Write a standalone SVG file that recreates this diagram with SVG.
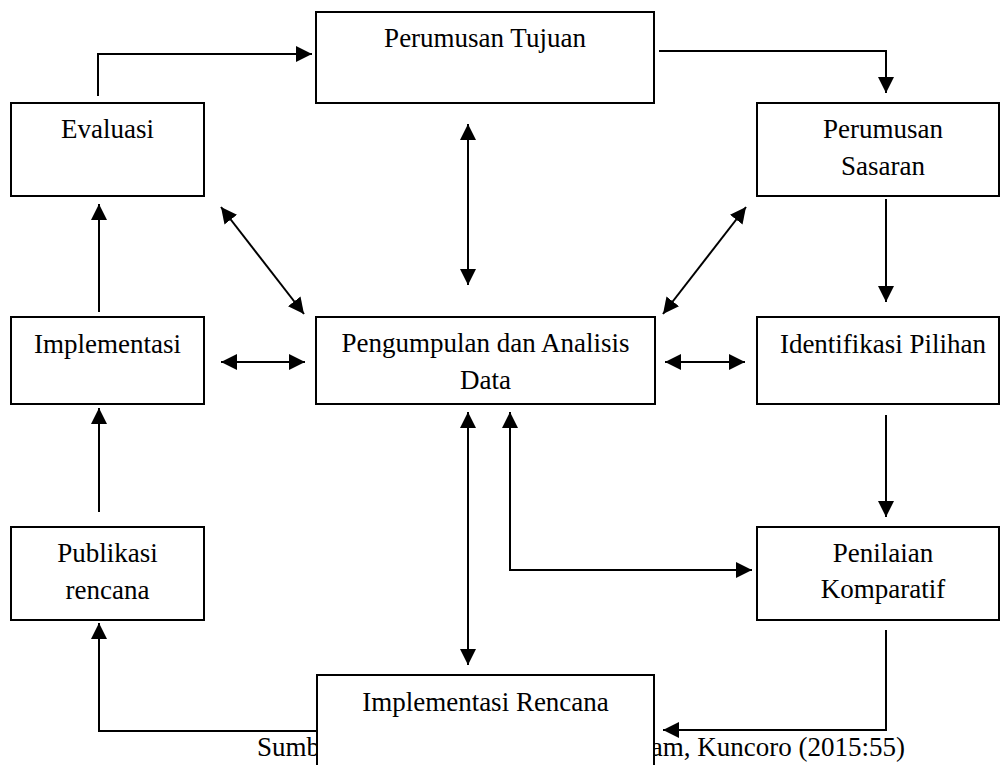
<svg xmlns="http://www.w3.org/2000/svg" width="1002" height="765" viewBox="0 0 1002 765">
<style>
.box{fill:#fff;stroke:#000;stroke-width:2}
.t{font-family:"Liberation Serif","Times New Roman",serif;font-size:27px;fill:#000;text-anchor:middle}
.src{font-family:"Liberation Serif","Times New Roman",serif;font-size:27px;fill:#000}
.c{fill:none;stroke:#000;stroke-width:2}
.a1{marker-end:url(#ah)}
.a2{marker-start:url(#ah);marker-end:url(#ah)}
</style>
<defs>
<marker id="ah" markerUnits="userSpaceOnUse" markerWidth="17" markerHeight="17" refX="16" refY="8" orient="auto-start-reverse">
<path d="M0,0 L16,8 L0,16 z" fill="#000"/>
</marker>
</defs>
<rect width="1002" height="765" fill="#fff"/>
<text class="src" x="257" y="756">Sumber: Conyers &amp; Hills (1984) dalam, Kuncoro (2015:55)</text>
<g id="connectors">
<polyline class="c a1" points="98,96 98,54 312,54"/>
<polyline class="c a1" points="659,51 886,51 886,93"/>
<line class="c a1" x1="886" y1="199" x2="886" y2="302"/>
<line class="c a1" x1="886" y1="415" x2="886" y2="517"/>
<polyline class="c a1" points="886,630 886,730 663,730"/>
<polyline class="c a1" points="316,731 99,731 99,623"/>
<line class="c a1" x1="99" y1="512" x2="99" y2="408"/>
<line class="c a1" x1="99" y1="312" x2="99" y2="204"/>
<line class="c a2" x1="221" y1="207" x2="304" y2="314"/>
<line class="c a2" x1="746" y1="207" x2="663" y2="314"/>
<line class="c a2" x1="221" y1="362" x2="305" y2="362"/>
<line class="c a2" x1="665" y1="362" x2="745" y2="362"/>
<line class="c a2" x1="468" y1="124" x2="468" y2="285"/>
<line class="c a2" x1="468" y1="412" x2="468" y2="665"/>
<polyline class="c a2" points="510,412 510,570 752,570"/>
</g>
<g id="perumusan-tujuan"><rect class="box" x="316" y="12" width="338" height="91"/><text class="t" x="485" y="47">Perumusan Tujuan</text></g>
<g id="evaluasi"><rect class="box" x="11" y="103" width="193" height="93"/><text class="t" x="107.5" y="138">Evaluasi</text></g>
<g id="perumusan-sasaran"><rect class="box" x="757" y="103" width="242" height="93"/><text class="t" x="883" y="138">Perumusan</text><text class="t" x="883" y="175">Sasaran</text></g>
<g id="implementasi"><rect class="box" x="11" y="317" width="193" height="87"/><text class="t" x="107.5" y="353">Implementasi</text></g>
<g id="pengumpulan"><rect class="box" x="316" y="317" width="339" height="87"/><text class="t" x="485.5" y="352">Pengumpulan dan Analisis</text><text class="t" x="485.5" y="389">Data</text></g>
<g id="identifikasi"><rect class="box" x="757" y="317" width="242" height="87"/><text class="t" x="883" y="353">Identifikasi Pilihan</text></g>
<g id="publikasi"><rect class="box" x="11" y="527" width="193" height="93"/><text class="t" x="107.5" y="562">Publikasi</text><text class="t" x="107.5" y="599">rencana</text></g>
<g id="penilaian"><rect class="box" x="757" y="527" width="242" height="93"/><text class="t" x="883" y="562">Penilaian</text><text class="t" x="883" y="598">Komparatif</text></g>
<g id="implementasi-rencana"><rect class="box" x="317" y="675" width="337" height="100"/><text class="t" x="485.5" y="711">Implementasi Rencana</text></g>
</svg>
